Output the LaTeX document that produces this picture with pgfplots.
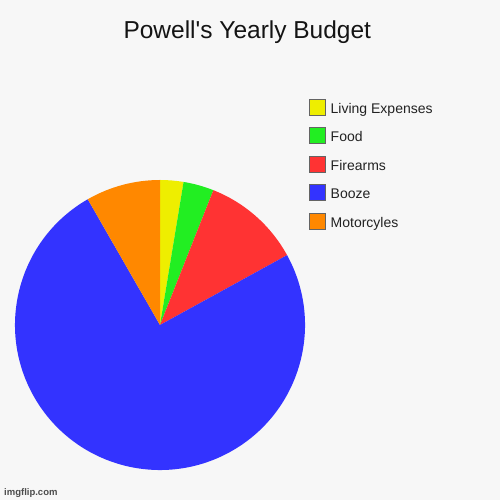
\documentclass[border=0pt]{standalone}
\usepackage{fontspec}
\setmainfont{Liberation Sans}[Ligatures=TeXOff]
\usepackage{pgfplots}
\usepackage{pgfplotstable}
\pgfplotsset{compat=1.18}

\definecolor{bgc}{RGB}{247,247,247}
\definecolor{cLiving}{RGB}{238,238,0}
\definecolor{cFood}{RGB}{34,238,34}
\definecolor{cFire}{RGB}{255,51,51}
\definecolor{cBooze}{RGB}{51,51,255}
\definecolor{cMoto}{RGB}{255,136,0}
\definecolor{legedge}{RGB}{100,100,100}
\definecolor{txt}{RGB}{34,34,34}

% share of the budget in percent, clockwise from 12 o'clock
\pgfplotstableread{
item value
Living 2.6
Food 3.4
Firearms 11.0
Booze 74.7
Motorcycles 8.3
}\budget

\pgfplotstablegetelem{0}{value}\of\budget \let\vA\pgfplotsretval
\pgfplotstablegetelem{1}{value}\of\budget \let\vB\pgfplotsretval
\pgfplotstablegetelem{2}{value}\of\budget \let\vC\pgfplotsretval
\pgfplotstablegetelem{3}{value}\of\budget \let\vD\pgfplotsretval
\pgfplotstablegetelem{4}{value}\of\budget \let\vE\pgfplotsretval
% start angles of each slice
\pgfmathsetmacro\aA{90}
\pgfmathsetmacro\aB{\aA-3.6*\vA}
\pgfmathsetmacro\aC{\aB-3.6*\vB}
\pgfmathsetmacro\aD{\aC-3.6*\vC}
\pgfmathsetmacro\aE{\aD-3.6*\vD}

% pie centre (160,175) in pixel units, radius 145
\newcommand\slice[3]{%
  \fill[#3] (axis cs:160,175) -- ++({#1}:145bp)
    arc[start angle={#1}, delta angle={-3.6*(#2)}, radius=145bp] -- cycle;}

\begin{document}
\begin{tikzpicture}
\begin{axis}[
  x=1bp, y=1bp,
  xmin=0, xmax=500, ymin=0, ymax=500,
  hide axis, clip=false,
  legend style={draw=none, fill=none, inner sep=0pt, outer sep=0pt,
    at={(axis cs:309,401)}, anchor=north west,
    row sep=11bp,
    font=\fontsize{14bp}{16bp}\selectfont, text=txt,
    nodes={inner sep=0pt, text height=11bp, text depth=3bp}},
  legend cell align=left,
  legend image code/.code={%
    \draw[#1, draw=legedge, line width=1bp] (0.5bp,-5.7bp) rectangle (16.2bp,10bp);
    \path (21.5bp,0bp);},
]
\fill[bgc] (axis cs:0,0) rectangle (axis cs:500,500);

\slice{\aA}{\vA}{cLiving}
\slice{\aB}{\vB}{cFood}
\slice{\aC}{\vC}{cFire}
\slice{\aD}{\vD}{cBooze}
\slice{\aE}{\vE}{cMoto}

\addlegendimage{fill=cLiving}
\addlegendentry{Living Expenses}
\addlegendimage{fill=cFood}
\addlegendentry{Food}
\addlegendimage{fill=cFire}
\addlegendentry{Firearms}
\addlegendimage{fill=cBooze}
\addlegendentry{Booze}
\addlegendimage{fill=cMoto}
\addlegendentry{Motorcyles}

\node[anchor=base, inner sep=0pt, text=txt!60!black,
  font=\fontsize{24.5bp}{28bp}\selectfont] at (axis cs:247.3,461) {Powell's Yearly Budget};
\node[anchor=base west, inner sep=0pt, text=black!70,
  font=\fontsize{9.5bp}{11bp}\selectfont\bfseries] at (axis cs:4,4.5) {imgflip.com};
\end{axis}
\pgfresetboundingbox
\path[use as bounding box] (current axis.south west) rectangle (current axis.north east);
\end{tikzpicture}
\end{document}
